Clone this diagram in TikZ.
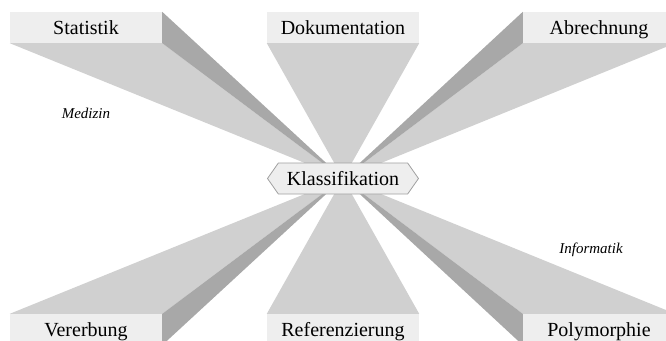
\documentclass[tikz,border=0pt]{standalone}
\usepackage{fontspec}
\setmainfont{Liberation Serif}
\usetikzlibrary{shapes.symbols,backgrounds}
\definecolor{facelight}{HTML}{D0D0D0}
\definecolor{facedark}{HTML}{A8A8A8}
\definecolor{boxfill}{HTML}{EEEEEE}
\definecolor{hexline}{HTML}{A0A0A0}
\tikzset{
    topic/.style={fill=boxfill, minimum width=152pt, minimum height=31pt,
        inner sep=0pt, text height=13.7pt, text depth=0pt,
        font=\fontsize{20}{24}\selectfont},
    hub/.style={signal, signal to=east and west, signal pointer angle=110,
        fill=boxfill, draw=hexline, line width=0.8pt, minimum width=151pt,
        minimum height=31pt, inner xsep=6pt, inner ysep=0pt,
        font=\fontsize{20}{24}\selectfont},
    area/.style={font=\fontsize{15}{18}\selectfont\itshape},
}
\begin{document}
\begin{tikzpicture}[x=1pt, y=-1pt]
    \useasboundingbox (0,0) rectangle (666,340);
    \clip (0,0) rectangle (666,340);

    \node[hub] (klass) at (343,178.5) {Klassifikation};

    \node[topic] (stat) at (86,27.5) {Statistik};
    \node[topic] (doku) at (343,27.5) {Dokumentation};
    \node[topic] (abr) at (599,27.5) {Abrechnung};
    \node[topic] (ver) at (86,329.5) {Vererbung};
    \node[topic] (ref) at (343,329.5) {Referenzierung};
    \node[topic] (poly) at (599,329.5) {Polymorphie};

    \node[area] (med) at (86,113) {Medizin};
    \node[area] (inf) at (591,250) {Informatik};

    \begin{scope}[on background layer]
        \clip (0,0) rectangle (666,340);
        \foreach \n in {stat,doku,abr}
            \fill[facelight] (\n.south west) -- (\n.south east) -- (klass.center) -- cycle;
        \foreach \n in {ver,ref,poly}
            \fill[facelight] (\n.north west) -- (\n.north east) -- (klass.center) -- cycle;
        \fill[facedark] (stat.north east) -- (stat.south east) -- (klass.center) -- cycle;
        \fill[facedark] (abr.north west) -- (abr.south west) -- (klass.center) -- cycle;
        \fill[facedark] (ver.north east) -- (ver.south east) -- (klass.center) -- cycle;
        \fill[facedark] (poly.north west) -- (poly.south west) -- (klass.center) -- cycle;
    \end{scope}
\end{tikzpicture}
\end{document}
